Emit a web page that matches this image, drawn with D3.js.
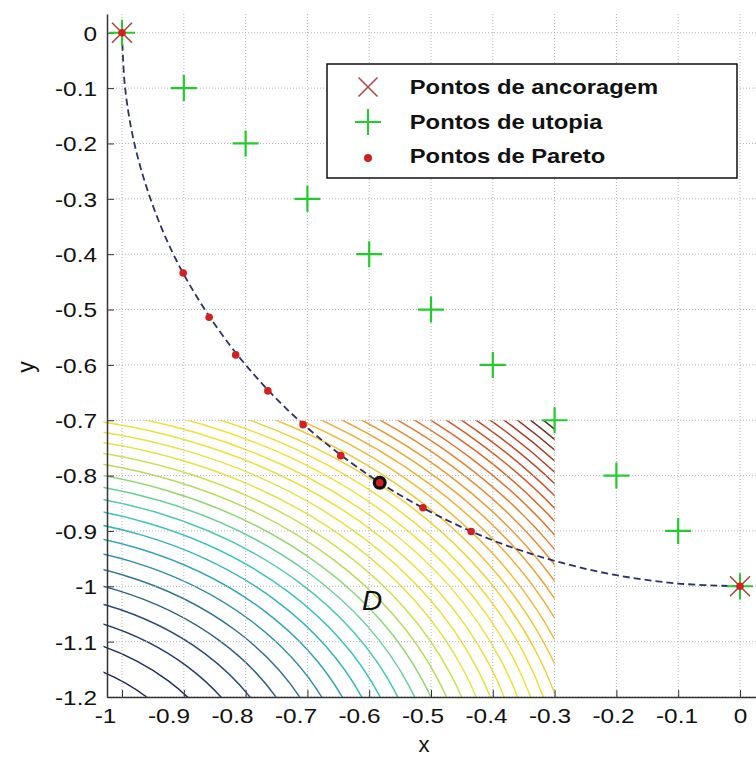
<!DOCTYPE html>
<html>
<head>
<meta charset="utf-8">
<script src="https://cdn.jsdelivr.net/npm/d3@7"></script>
<style>
body { margin: 0; background: #fff; }
svg { display: block; font-family: "Liberation Sans", Arial, Helvetica, sans-serif; }
</style>
</head>
<body>
<svg width="756" height="760"></svg>
<script>
// axis ticks
const xTicks = [-1, -0.9, -0.8, -0.7, -0.6, -0.5, -0.4, -0.3, -0.2, -0.1, 0];
const xTickLabels = ["-1", "-0.9", "-0.8", "-0.7", "-0.6", "-0.5", "-0.4", "-0.3", "-0.2", "-0.1", "0"];
const yTicks = [0, -0.1, -0.2, -0.3, -0.4, -0.5, -0.6, -0.7, -0.8, -0.9, -1, -1.1, -1.2];
const yTickLabels = ["0", "-0.1", "-0.2", "-0.3", "-0.4", "-0.5", "-0.6", "-0.7", "-0.8", "-0.9", "-1", "-1.1", "-1.2"];

// anchor points
const anchorX = [-1, 0];
const anchorY = [0, -1];

// utopia points
const utopiaX = [-0.9, -0.8, -0.7, -0.6, -0.5, -0.4, -0.3, -0.2, -0.1];
const utopiaY = [-0.1, -0.2, -0.3, -0.4, -0.5, -0.6, -0.7, -0.8, -0.9];

// pareto points
const paretoX = [-1, -0.901, -0.859, -0.816, -0.764, -0.707, -0.646, -0.583, -0.513, -0.435, 0];
const paretoY = [0, -0.434, -0.514, -0.582, -0.647, -0.708, -0.764, -0.813, -0.858, -0.901, -1];
const bestIndex = 7;

// dashed pareto front
const frontX = [-1, -0.995, -0.98, -0.954, -0.917, -0.866, -0.8, -0.714, -0.6, -0.5, -0.4, -0.3, -0.2, -0.1, 0];
const frontY = [0, -0.1, -0.2, -0.3, -0.4, -0.5, -0.6, -0.7, -0.8, -0.866, -0.917, -0.954, -0.98, -0.995, -1];

// region D and its contour levels
const regionX = [-1.03, -0.3];
const regionY = [-1.2, -0.7];
const contourCenter = [-1.2, -1.4];
const contourAspect = 1.2;
const contourLevels = [0.08, 0.105, 0.13, 0.155, 0.18, 0.205, 0.23, 0.255, 0.28, 0.305,
  0.33, 0.355, 0.38, 0.405, 0.43, 0.455, 0.48, 0.505, 0.53, 0.555,
  0.58, 0.605, 0.63, 0.655, 0.68, 0.705, 0.73, 0.755, 0.78, 0.805,
  0.83, 0.855, 0.88, 0.905, 0.93, 0.955, 0.98, 1.005, 1.03, 1.055];

const legendLabels = ["Pontos de ancoragem", "Pontos de utopia", "Pontos de Pareto"];

const plotLeft = 107, plotRight = 756, plotTop = 14, plotBottom = 697;

const x = d3.scaleLinear().domain([-1.0243, 0.0259]).range([plotLeft, plotRight]);
const y = d3.scaleLinear().domain([-1.2, 0.0339]).range([plotBottom, plotTop]);
// the tick labels of the original sit a little left of their grid lines
const xLabelPos = d3.scaleLinear().domain([-1, 0]).range([105, 740]);

const colorStops = [0, 0.06, 0.12, 0.18, 0.24, 0.28, 0.32, 0.38, 0.5, 0.6, 0.7, 0.8, 0.9, 1];
const colorValues = ["#1b2552", "#233f72", "#2a6f90", "#2ea5b8", "#38c8c4", "#62d09a", "#a8da62",
  "#e2e440", "#f2e232", "#f0b830", "#e88830", "#d45a28", "#a83c28", "#3a2422"];
const levelT = d3.scaleLinear().domain(d3.extent(contourLevels)).range([0, 1]);
const stopColor = d3.scaleLinear().domain(colorStops).range(colorValues).interpolate(d3.interpolateRgb);
const contourColor = L => stopColor(levelT(L));

const svg = d3.select("svg");

svg.append("clipPath").attr("id", "clipD")
  .append("rect")
    .attr("x", x(regionX[0]))
    .attr("y", y(regionY[1]))
    .attr("width", x(regionX[1]) - x(regionX[0]))
    .attr("height", y(regionY[0]) - y(regionY[1]));

svg.append("clipPath").attr("id", "clipPlot")
  .append("rect")
    .attr("x", plotLeft).attr("y", plotTop)
    .attr("width", plotRight - plotLeft).attr("height", plotBottom - plotTop);

// contour lines
svg.append("g")
  .attr("clip-path", "url(#clipD)")
  .selectAll("ellipse")
  .data(contourLevels)
  .join("ellipse")
    .attr("cx", x(contourCenter[0]))
    .attr("cy", y(contourCenter[1]))
    .attr("rx", L => x(contourCenter[0] + contourAspect * Math.sqrt(L)) - x(contourCenter[0]))
    .attr("ry", L => y(contourCenter[1]) - y(contourCenter[1] + Math.sqrt(L)))
    .attr("fill", "none")
    .attr("stroke", contourColor)
    .attr("stroke-width", 1.5);

// grid
const grid = svg.append("g")
  .attr("stroke", "#b5b5b5")
  .attr("stroke-width", 1)
  .attr("stroke-dasharray", "1,2");
grid.selectAll("line.vx")
  .data(xTicks)
  .join("line")
    .attr("class", "vx")
    .attr("x1", d => x(d)).attr("x2", d => x(d))
    .attr("y1", plotTop).attr("y2", plotBottom);
grid.selectAll("line.hy")
  .data(yTicks)
  .join("line")
    .attr("class", "hy")
    .attr("x1", plotLeft).attr("x2", plotRight)
    .attr("y1", d => y(d)).attr("y2", d => y(d));

// axes
const xAxis = svg.append("g")
  .attr("transform", `translate(0,${plotBottom})`)
  .call(d3.axisBottom(x).tickValues(xTicks)
    .tickFormat((d, i) => xTickLabels[i])
    .tickSizeInner(-7).tickSizeOuter(0).tickPadding(12));

const yAxis = svg.append("g")
  .attr("transform", `translate(${plotLeft},0)`)
  .call(d3.axisLeft(y).tickValues(yTicks)
    .tickFormat((d, i) => yTickLabels[i])
    .tickSizeInner(-7).tickSizeOuter(0).tickPadding(10));

[xAxis, yAxis].forEach(g => {
  g.attr("font-family", null).attr("font-size", null);
  g.select(".domain").attr("stroke", "#333").attr("stroke-width", 1.5);
  g.selectAll(".tick line").attr("stroke", "#333");
  g.selectAll(".tick text")
    .attr("fill", "#111")
    .attr("font-size", 20);
});

xAxis.selectAll(".tick text")
  .attr("transform", d => `translate(${xLabelPos(d) - x(d)},0) scale(1.22,1)`);

yAxis.selectAll(".tick text")
  .attr("x", 0)
  .attr("transform", "translate(-10,1) scale(1.22,1)");

// axis titles
svg.append("text")
  .attr("x", 424).attr("y", 752)
  .attr("text-anchor", "middle")
  .attr("font-size", 22)
  .attr("fill", "#111")
  .text("x");

svg.append("text")
  .attr("transform", "translate(34,367) rotate(-90)")
  .attr("text-anchor", "middle")
  .attr("font-size", 23)
  .attr("fill", "#111")
  .text("y");

// region label
svg.append("text")
  .attr("x", 372).attr("y", 610)
  .attr("text-anchor", "middle")
  .attr("font-size", 28)
  .attr("font-style", "italic")
  .attr("fill", "#111")
  .text("D");

const marks = svg.append("g").attr("clip-path", "url(#clipPlot)");

// pareto front
const front = d3.line()
  .x(d => x(d[0]))
  .y(d => y(d[1]))
  .curve(d3.curveCatmullRom);

marks.append("path")
  .datum(d3.zip(frontX, frontY))
  .attr("d", front)
  .attr("fill", "none")
  .attr("stroke", "#2b3266")
  .attr("stroke-width", 1.8)
  .attr("stroke-dasharray", "7,4");

const plusPath = "M-13,0H13M0,-13V13";
const crossPath = "M-10,-10L10,10M10,-10L-10,10";

// utopia points
marks.selectAll("path.utopia")
  .data(d3.zip(utopiaX, utopiaY))
  .join("path")
    .attr("class", "utopia")
    .attr("transform", d => `translate(${x(d[0])},${y(d[1])})`)
    .attr("d", plusPath)
    .attr("stroke", "#22cc2a")
    .attr("stroke-width", 2.2);

// anchor points
const anchors = marks.selectAll("g.anchor")
  .data(d3.zip(anchorX, anchorY))
  .join("g")
    .attr("class", "anchor")
    .attr("transform", d => `translate(${x(d[0])},${y(d[1])})`);
anchors.append("path")
  .attr("d", plusPath)
  .attr("stroke", "#22cc2a")
  .attr("stroke-width", 2);
anchors.append("path")
  .attr("d", crossPath)
  .attr("stroke", "#a5483f")
  .attr("stroke-width", 1.6);

// pareto points
marks.selectAll("circle.best")
  .data([bestIndex])
  .join("circle")
    .attr("class", "best")
    .attr("cx", i => x(paretoX[i]))
    .attr("cy", i => y(paretoY[i]))
    .attr("r", 7)
    .attr("fill", "#111");

marks.selectAll("circle.pareto")
  .data(d3.zip(paretoX, paretoY))
  .join("circle")
    .attr("class", "pareto")
    .attr("cx", d => x(d[0]))
    .attr("cy", d => y(d[1]))
    .attr("r", 3.8)
    .attr("fill", "#d42020");

// legend
const legend = svg.append("g");
legend.append("rect")
  .attr("x", 327).attr("y", 64)
  .attr("width", 410).attr("height", 114)
  .attr("fill", "#fff")
  .attr("stroke", "#111")
  .attr("stroke-width", 1.5);

const rowY = [87, 122, 156];
const items = legend.selectAll("g.item")
  .data(legendLabels)
  .join("g")
    .attr("class", "item")
    .attr("transform", (d, i) => `translate(368,${rowY[i]})`);

items.filter((d, i) => i === 0).append("path")
  .attr("d", crossPath)
  .attr("transform", "scale(0.95)")
  .attr("stroke", "#b04848")
  .attr("stroke-width", 1.6);
items.filter((d, i) => i === 1).append("path")
  .attr("d", plusPath)
  .attr("stroke", "#22cc2a")
  .attr("stroke-width", 2);
items.filter((d, i) => i === 2).append("circle")
  .attr("cy", 2)
  .attr("r", 4)
  .attr("fill", "#d42020");

items.append("text")
  .attr("x", 36)
  .attr("dy", "0.35em")
  .attr("font-size", 20.5)
  .attr("font-weight", "bold")
  .attr("fill", "#111")
  .attr("transform", "scale(1.16,1)")
  .text(d => d);
</script>
</body>
</html>
